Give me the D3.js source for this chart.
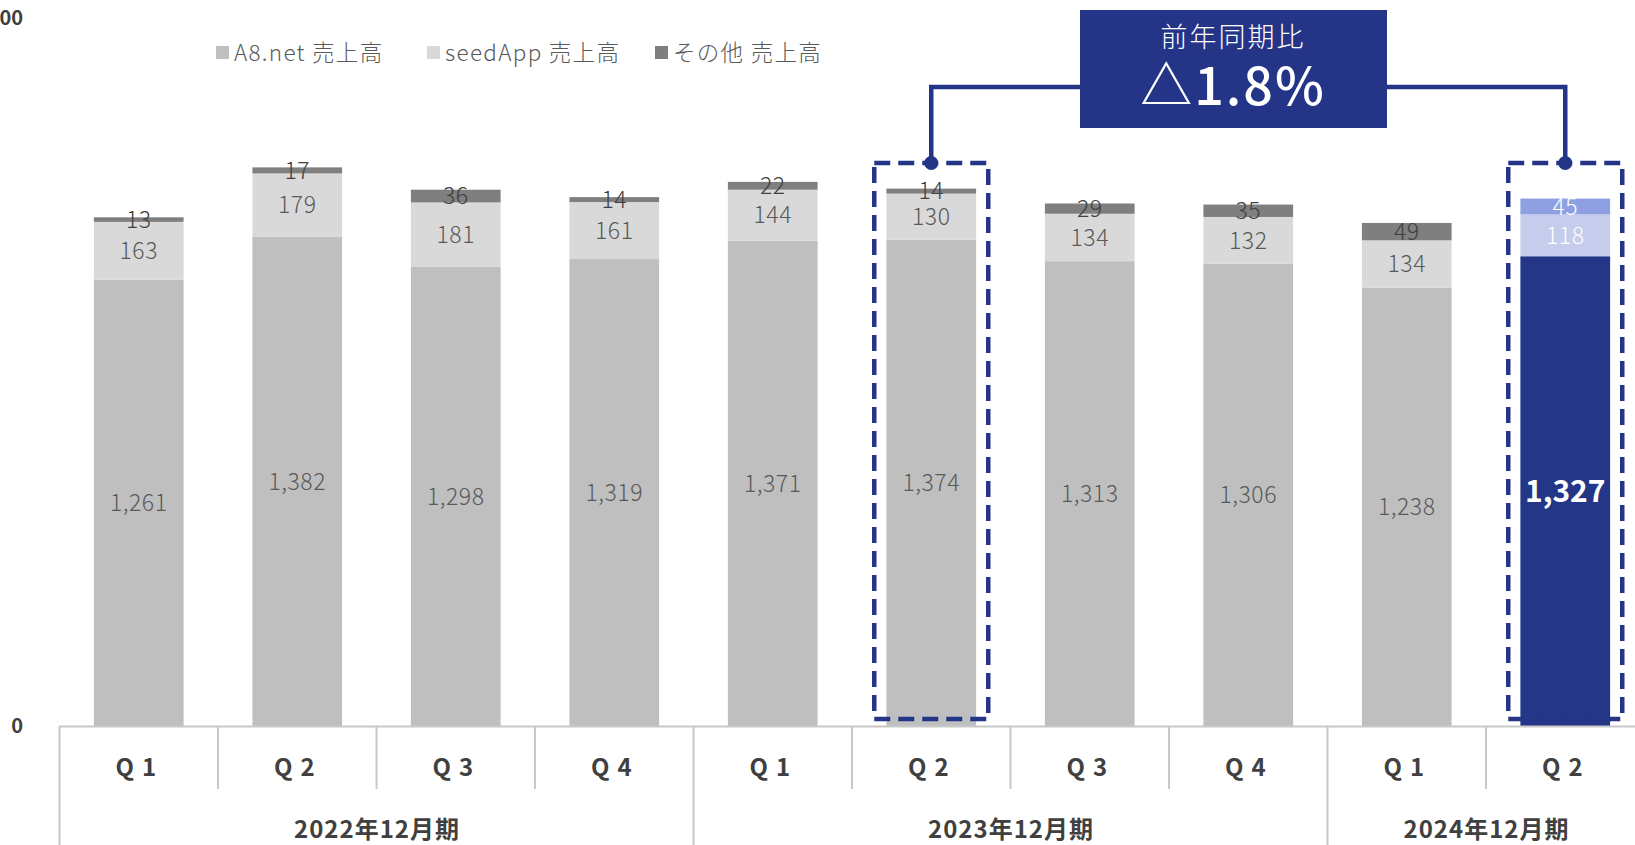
<!DOCTYPE html>
<html><head><meta charset="utf-8">
<script src="https://cdn.jsdelivr.net/npm/d3@7"></script>
<style>
html,body{margin:0;padding:0;background:#fff;overflow:hidden}
svg{display:block;font-family:"Noto Sans CJK JP","Noto Sans",sans-serif}
</style></head><body>
<svg id="c" width="1635" height="845"></svg>
<script>
const categories = ["Q1","Q2","Q3","Q4","Q1","Q2","Q3","Q4","Q1","Q2"];
const periodLabels = ["2022年12月期","2023年12月期","2024年12月期"];
const periodSpans = [4,4,2];
const a8Sales = [1261,1382,1298,1319,1371,1374,1313,1306,1238,1327];
const seedAppSales = [163,179,181,161,144,130,134,132,134,118];
const otherSales = [13,17,36,14,22,14,29,35,49,45];
const seriesNames = ["A8.net 売上高","seedApp 売上高","その他 売上高"];
const yTickValues = [0,2000];
const yTickLabels = ["0","2,000"];
const calloutTitle = "前年同期比";
const calloutValue = "△1.8%";
const highlightIdx = [5,9];

const grayColors = ["#bfbfbf","#d9d9d9","#7f7f7f"];
const hiColors = ["#233688","#c6cdec","#8ea0e1"];
const navy = "#243588";

const svg = d3.select("#c");
const x0 = 59.5, step = 158.5;
const x = d3.scaleBand().domain(d3.range(categories.length))
  .range([x0, x0 + step*categories.length]).paddingInner(0.434).paddingOuter(0.217);
const y = d3.scaleLinear().domain([0,2000]).range([726,18]);

const stack = d3.stack().keys([0,1,2]).value((d,k)=>d[k]);
const rows = categories.map((c,i)=>[a8Sales[i],seedAppSales[i],otherSales[i]]);
const series = stack(rows);

// bars
series.forEach((s,k)=>{
  svg.append("g").selectAll("rect").data(s).join("rect")
    .attr("x",(d,i)=>x(i)).attr("width",x.bandwidth())
    .attr("y",d=>y(d[1])).attr("height",d=>y(d[0])-y(d[1]))
    .attr("fill",(d,i)=> i===9 ? hiColors[k] : grayColors[k]);
});

// axis line
svg.append("line").attr("x1",x0).attr("x2",1635).attr("y1",y(0)+0.5).attr("y2",y(0)+0.5)
  .attr("stroke","#c8c8c8").attr("stroke-width",2);
svg.append("line").attr("x1",x0).attr("x2",x0).attr("y1",y(0)).attr("y2",845)
  .attr("stroke","#c8c8c8").attr("stroke-width",2);
// separators
let cum=0; const yearBounds=new Set([0]);
periodSpans.forEach(s=>{cum+=s; yearBounds.add(cum);});
for(let k=1;k<categories.length;k++){
  svg.append("line").attr("x1",x0+step*k).attr("x2",x0+step*k)
    .attr("y1",y(0)).attr("y2",yearBounds.has(k)?845:789)
    .attr("stroke","#c8c8c8").attr("stroke-width",2);
}
// Q labels
svg.append("g").selectAll("text").data(categories).join("text")
  .attr("x",(d,i)=>x(i)+x.bandwidth()/2+1).attr("y",776)
  .attr("text-anchor","middle").attr("font-size",24).attr("font-weight",700)
  .attr("fill","#404040").attr("letter-spacing","8px").text(d=>d);
// period labels
cum=0;
periodLabels.forEach((p,j)=>{
  const cx = x0 + step*(cum + periodSpans[j]/2);
  cum += periodSpans[j];
  svg.append("text").attr("x",cx+0.5).attr("y",838).attr("text-anchor","middle")
    .attr("font-size",24).attr("font-weight",700).attr("fill","#404040")
    .attr("letter-spacing","1px").text(p);
});
// y tick labels
svg.append("g").selectAll("text").data(yTickValues).join("text")
  .attr("x",23).attr("y",d=>y(d)+7).attr("text-anchor","end")
  .attr("font-size",20).attr("font-weight",700).attr("fill","#404040")
  .text((d,i)=>yTickLabels[i]);

// data labels
const fmt = d3.format(",");
series.forEach((s,k)=>{
  svg.append("g").selectAll("text").data(s).join("text")
    .attr("x",(d,i)=>x(i)+x.bandwidth()/2)
    .attr("y",(d)=>(y(d[0])+y(d[1]))/2)
    .attr("dy","0.36em").attr("text-anchor","middle")
    .attr("font-size",(d,i)=> (i===9 && k===0) ? 30 : 23)
    .attr("font-weight",(d,i)=> (i===9 && k===0) ? 700 : 300)
    .attr("letter-spacing",(d,i)=> (i===9 && k===0) ? "0px" : "0.5px")
    .attr("fill",(d,i)=> i===9 ? "#ffffff" : (k===2 ? "#404040" : "#595959"))
    .text(d=>fmt(d.data[k]));
});

// legend
const legX = [216,427,655];
seriesNames.forEach((n,k)=>{
  svg.append("rect").attr("x",legX[k]).attr("y",46).attr("width",13).attr("height",13).attr("fill",grayColors[k]);
  svg.append("text").attr("x",legX[k]+18).attr("y",61).attr("font-size",22.5).attr("font-weight",300)
    .attr("letter-spacing","1.3px").attr("fill","#595959").text(n);
});

// highlight dashed boxes
const boxTop = 163, boxBot = 719;
highlightIdx.forEach(i=>{
  const cx = x(i)+x.bandwidth()/2;
  svg.append("rect").attr("x",cx-57).attr("y",boxTop).attr("width",114).attr("height",boxBot-boxTop)
    .attr("fill","none").attr("stroke",navy).attr("stroke-width",4.5).attr("stroke-dasharray","16,8");
});
// connectors
const c1 = x(highlightIdx[0])+x.bandwidth()/2, c2 = x(highlightIdx[1])+x.bandwidth()/2;
const lineY = 87;
svg.append("path").attr("d",`M${c1},${boxTop} V${lineY} H${c2} V${boxTop}`)
  .attr("fill","none").attr("stroke",navy).attr("stroke-width",4.5);
[c1,c2].forEach(cx=>svg.append("circle").attr("cx",cx).attr("cy",boxTop).attr("r",7).attr("fill",navy));
// callout box
svg.append("rect").attr("x",1080).attr("y",10).attr("width",307).attr("height",118).attr("fill",navy);
svg.append("text").attr("x",1233).attr("y",47).attr("text-anchor","middle").attr("font-size",27)
  .attr("font-weight",300).attr("fill","#fff").attr("letter-spacing","2px").text(calloutTitle);
svg.append("text").attr("x",1233).attr("y",105).attr("text-anchor","middle").attr("font-size",52)
  .attr("font-weight",500).attr("fill","#fff").attr("letter-spacing","2px").text(calloutValue);
</script></body></html>
